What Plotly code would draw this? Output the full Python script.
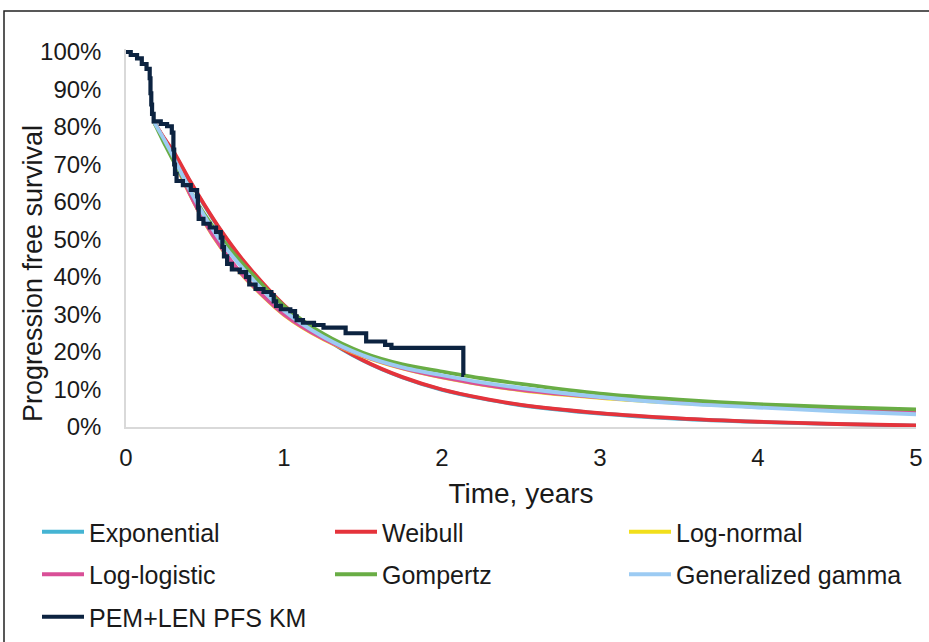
import plotly.graph_objects as go

# ---- data (survival in %) ----
# parametric extrapolations start where they join the KM curve
fit_t = [0.175, 0.25, 0.3, 0.4, 0.5, 0.6, 0.75, 1.0, 1.25, 1.5, 1.75, 2.0, 2.25, 2.5, 3.0, 3.5, 4.0, 4.5, 5.0]
exponential = [81.5, 76.3, 73.2, 65.8, 58.8, 52.3, 43.8, 32.3, 23.9, 17.7, 13.2, 9.9, 7.6, 5.8, 3.6, 2.2, 1.35, 0.75, 0.35]
weibull = [81.5, 76.5, 73.5, 66, 59, 52.5, 44, 32.5, 24, 17.8, 13.3, 10.0, 7.7, 5.9, 3.7, 2.3, 1.4, 0.8, 0.4]
log_normal = [81.5, 75.9, 71.4, 62.4, 54.4, 47.9, 39.9, 29.9, 23.4, 18.9, 15.6, 13.2, 11.3, 9.8, 7.8, 6.4, 5.4, 4.6, 3.9]
log_logistic = [81.5, 76, 71.5, 62.5, 54.5, 48, 40, 30, 23.5, 19.0, 15.7, 13.3, 11.4, 9.9, 7.9, 6.5, 5.4, 4.6, 3.9]
gompertz = [81.5, 75, 71, 63.5, 56.5, 50.5, 43, 32.3, 24.8, 19.8, 16.7, 14.8, 13.0, 11.5, 8.9, 7.3, 6.1, 5.3, 4.7]
gen_gamma = [81.5, 76, 72, 63.5, 56, 49.5, 41.8, 31, 24, 19.1, 15.9, 13.8, 11.9, 10.4, 8.0, 6.3, 5.2, 4.2, 3.4]

km_t = [0, 0.03, 0.07, 0.10, 0.13, 0.15, 0.155, 0.16, 0.165, 0.175, 0.22, 0.26, 0.29, 0.30, 0.305,
        0.31, 0.32, 0.36, 0.41, 0.45, 0.455, 0.46, 0.49, 0.53, 0.57, 0.60, 0.61, 0.62, 0.64, 0.67,
        0.72, 0.76, 0.78, 0.82, 0.87, 0.92, 0.935, 0.95, 0.98, 1.04, 1.07, 1.08, 1.12, 1.19, 1.25,
        1.39, 1.52, 1.64, 1.68, 2.135, 2.14]
km_s = [100, 99.2, 98.3, 96.8, 95.5, 93, 89, 86, 83.5, 81.5, 80.8, 80.2, 78.5, 74, 70,
        67.5, 65.6, 64.5, 63.2, 61.5, 58.5, 55.5, 54.2, 53.2, 52, 50.5, 48, 45.5, 43.5, 42,
        41.3, 40, 38, 36.8, 36, 35.2, 33.5, 32.3, 31.4, 30.9, 29.5, 28.5, 27.8, 27.2, 26.5,
        25.0, 22.8, 21.9, 21.1, 13.9, 13.9]

x_ticks = [0, 1, 2, 3, 4, 5]
y_ticks = [0, 10, 20, 30, 40, 50, 60, 70, 80, 90, 100]

# (name, values, colour, legend column)
series = [
    ("Exponential", exponential, "#45B4D3", "legend"),
    ("Weibull", weibull, "#E5333B", "legend2"),
    ("Log-normal", log_normal, "#F2DF1B", "legend3"),
    ("Log-logistic", log_logistic, "#D94F97", "legend"),
    ("Gompertz", gompertz, "#69AD45", "legend2"),
    ("Generalized gamma", gen_gamma, "#9CCBF3", "legend3"),
]

FONT = "Liberation Sans, Arial, sans-serif"
TXT = "#1a1a1a"

fig = go.Figure()
for name, vals, col, leg in series:
    fig.add_trace(go.Scatter(x=fit_t, y=vals, name=name, mode="lines", legend=leg, legendgroup=name,
                             line=dict(color=col, width=3.8, shape="spline", smoothing=0.8)))
fig.add_trace(go.Scatter(x=km_t, y=km_s, name="PEM+LEN PFS KM", mode="lines", legend="legend",
                         legendgroup="km", line=dict(color="#0C2340", width=4.2, shape="hv")))

leg_common = dict(orientation="v", xref="container", yref="container",
                  y=1 - 509 / 642, xanchor="left", yanchor="top",
                  itemwidth=42, tracegroupgap=7,
                  font=dict(family=FONT, size=25, color=TXT), bgcolor="rgba(0,0,0,0)")

fig.update_layout(
    width=929, height=642,
    margin=dict(l=126, r=13, t=49, b=215, autoexpand=False),
    paper_bgcolor="white", plot_bgcolor="white",
    font=dict(family=FONT, size=22, color=TXT),
    showlegend=True,
    legend=dict(x=37 / 929, **leg_common),
    legend2=dict(x=330 / 929, **leg_common),
    legend3=dict(x=624 / 929, **leg_common),
    xaxis=dict(range=[0, 5], tickvals=x_ticks, ticktext=[str(v) for v in x_ticks],
               showgrid=False, zeroline=False, showline=True, linecolor="#D9D9D9", linewidth=1.5,
               ticks="outside", ticklen=8, tickcolor="rgba(0,0,0,0)",
               tickfont=dict(family=FONT, size=24, color=TXT),
               title=dict(text="Time, years", font=dict(family=FONT, size=28, color=TXT), standoff=14)),
    yaxis=dict(range=[0, 100.8], tickvals=y_ticks, ticktext=[f"{v}%" for v in y_ticks],
               showgrid=False, zeroline=False, showline=True, linecolor="#D9D9D9", linewidth=1.5,
               ticks="outside", ticklen=18, tickcolor="rgba(0,0,0,0)",
               tickfont=dict(family=FONT, size=24, color=TXT)),
    annotations=[dict(text="Progression free survival", textangle=-90, showarrow=False,
                      xref="paper", yref="paper", x=(33 - 126) / 790, y=(427 - 274) / 378,
                      xanchor="center", yanchor="middle",
                      font=dict(family=FONT, size=27, color=TXT))],
)

# outer frame (top and left edges visible in reference)
fig.add_shape(type="rect", xref="paper", yref="paper",
              x0=(4 - 126) / 790, x1=(945 - 126) / 790,
              y0=(427 - 700) / 378, y1=(427 - 11) / 378,
              line=dict(color="#222222", width=1.5), layer="above")

fig.write_html("out.html")
